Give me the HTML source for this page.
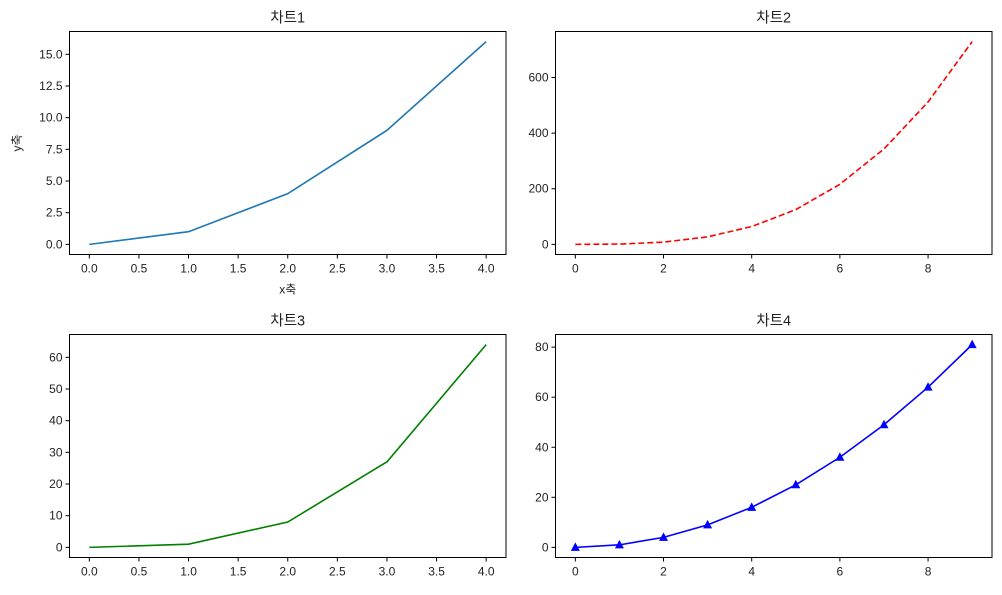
<!DOCTYPE html>
<html><head><meta charset="utf-8"><style>
body{margin:0;background:#fff}
svg text{font-family:"Liberation Sans","Noto Sans CJK KR",sans-serif;fill:#222}
</style></head><body>
<svg id="s" width="1002" height="590"></svg>
<script>
const x1=[0,1,2,3,4]; const y1=[0,1,4,9,16];
const x2=[0,1,2,3,4,5,6,7,8,9]; const y2=[0,1,8,27,64,125,216,343,512,729];
const x3=[0,1,2,3,4]; const y3=[0,1,8,27,64];
const x4=[0,1,2,3,4,5,6,7,8,9]; const y4=[0,1,4,9,16,25,36,49,64,81];
const xt1=[0,0.5,1,1.5,2,2.5,3,3.5,4]; const yt1=[0,2.5,5,7.5,10,12.5,15];
const xt2=[0,2,4,6,8]; const yt2=[0,200,400,600];
const yt3=[0,10,20,30,40,50,60]; const yt4=[0,20,40,60,80];
const s=document.getElementById('s');const NS='http://www.w3.org/2000/svg';
function mk(t,a,p){const e=document.createElementNS(NS,t);for(const k in a)e.setAttribute(k,a[k]);(p||s).appendChild(e);return e;}
function panel(o){
 const g=mk('g',{});
 
 
 const L=o.L,R=o.R,T=o.T,B=o.B;
 const xmin=o.xr[0],xmax=o.xr[1],ymin=o.yr[0],ymax=o.yr[1];
 const pad=(xmax-xmin)*0.05,py=(ymax-ymin)*0.05;
 const X=v=>L+(v-(xmin-pad))/((xmax+pad)-(xmin-pad))*(R-L);
 const Y=v=>B-(v-(ymin-py))/((ymax+py)-(ymin-py))*(B-T);
 o.xt.forEach(v=>{mk('line',{x1:X(v),x2:X(v),y1:B,y2:B+4,stroke:'#000'},g);
  const t=mk('text',{x:X(v),y:B+18,'text-anchor':'middle','font-size':12},g);t.textContent=o.xf(v);
  });
 o.yt.forEach(v=>{mk('line',{x1:L-4,x2:L,y1:Y(v),y2:Y(v),stroke:'#000'},g);
  const t=mk('text',{x:L-7,y:Y(v)+4,'text-anchor':'end','font-size':12},g);t.textContent=o.yf(v);
  });
 const pts=o.xs.map((v,i)=>X(v)+','+Y(o.ys[i])).join(' ');
 const pl=mk('polyline',{points:pts,fill:'none',stroke:o.c,'stroke-width':1.6,'stroke-dasharray':o.dash||'none'},g);
 
 if(o.marker)o.xs.forEach((v,i)=>{const cx=X(v),cy=Y(o.ys[i]);
  const m=mk('polygon',{points:`${cx},${cy-5} ${cx-4.5},${cy+3.5} ${cx+4.5},${cy+3.5}`,fill:o.c},g);
  });
 mk('rect',{x:L,y:T,width:R-L,height:B-T,fill:'none',stroke:'#000','stroke-width':1},g);
 const ti=mk('text',{x:(L+R)/2,y:T-9,'text-anchor':'middle','font-size':14.5},g);ti.textContent=o.title;
 
 if(o.xl){const t=mk('text',{x:(L+R)/2,y:B+39,'text-anchor':'middle','font-size':12},g);t.textContent=o.xl;
  }
 if(o.yl){const t=mk('text',{x:0,y:0,'text-anchor':'middle','font-size':12,transform:`translate(21,${(T+B)/2}) rotate(-90)`},g);t.textContent=o.yl;
  }
}
panel({name:'chart-1',L:69.5,R:506,T:31.5,B:254.5,xr:[0,4],yr:[0,16],xs:x1,ys:y1,xt:xt1,yt:yt1,xf:v=>v.toFixed(1),yf:v=>v.toFixed(1),c:'#1f77b4',title:'차트1',xl:'x축',yl:'y축'});
panel({name:'chart-2',L:555.5,R:992,T:31.5,B:254.5,xr:[0,9],yr:[0,729],xs:x2,ys:y2,xt:xt2,yt:yt2,xf:v=>v,yf:v=>v,c:'#ff0000',dash:'6,3',title:'차트2'});
panel({name:'chart-3',L:69.5,R:506,T:334.5,B:557.5,xr:[0,4],yr:[0,64],xs:x3,ys:y3,xt:xt1,yt:yt3,xf:v=>v.toFixed(1),yf:v=>v,c:'#008000',title:'차트3'});
panel({name:'chart-4',L:555.5,R:992,T:334.5,B:557.5,xr:[0,9],yr:[0,81],xs:x4,ys:y4,xt:xt2,yt:yt4,xf:v=>v,yf:v=>v,c:'#0000ff',marker:true,title:'차트4'});
</script></body></html>
